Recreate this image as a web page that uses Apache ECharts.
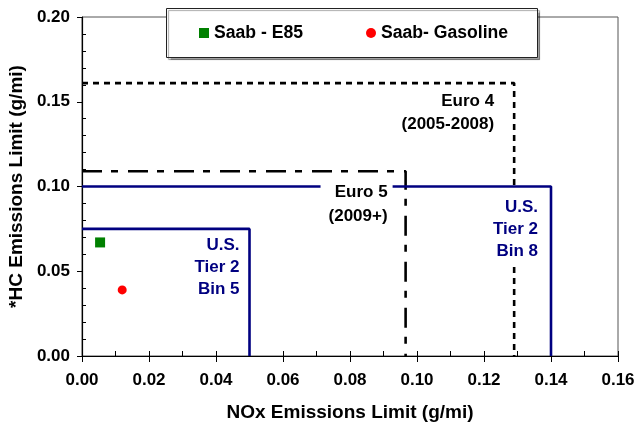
<!DOCTYPE html>
<html>
<head>
<meta charset="utf-8">
<script src="https://cdn.jsdelivr.net/npm/echarts@6/dist/echarts.min.js"></script>
<style>
  html, body { margin: 0; padding: 0; background: #fff; }
  #chart { width: 636px; height: 425px; }
</style>
</head>
<body>
<div id="chart"></div>
<script>
// Emission limit boxes: NOx limit (x) and HC limit (y), in g/mi
const limitNames = ['Euro 4', 'Euro 5', 'U.S. Tier 2 Bin 5', 'U.S. Tier 2 Bin 8'];
const limitNox = [0.129, 0.0966, 0.05, 0.14];
const limitHc = [0.161, 0.109, 0.075, 0.10];
const limitLabels = ['Euro 4\n(2005-2008)', 'Euro 5\n(2009+)', 'U.S.\nTier 2\nBin 5', 'U.S.\nTier 2\nBin 8'];

// Measured vehicle results
const vehicleNames = ['Saab - E85', 'Saab- Gasoline'];
const vehicleNox = [0.0054, 0.012];
const vehicleHc = [0.067, 0.039];

// Axis scales
const xAxisRange = { min: 0, max: 0.16, interval: 0.02 };
const yAxisRange = { min: 0, max: 0.20, interval: 0.05 };

const FONT = "'Liberation Sans', Arial, sans-serif";
const NAVY = '#000080';

// Per-box line and label styling
const boxStyles = [
  { line: { color: '#000', width: 2.6, type: [6, 5] },
    label: { color: '#000', align: 'right', lineHeight: 23, position: [-20, 7], padding: 0, bg: null } },
  { line: { color: '#000', width: 2.6, type: [20, 9, 7, 10] },
    label: { color: '#000', align: 'right', lineHeight: 24, position: [-13, 6], padding: [3, 5, 3, 8], bg: '#fff' } },
  { line: { color: NAVY, width: 2.6, type: 'solid' },
    label: { color: NAVY, align: 'right', lineHeight: 22, position: [-10, 5], padding: 0, bg: null } },
  { line: { color: NAVY, width: 2.6, type: 'solid' },
    label: { color: NAVY, align: 'right', lineHeight: 22, position: [-7, 1.5], padding: [8, 6, 4, 8], bg: '#fff' } }
];

const boxSeries = limitNames.map((name, i) => {
  const s = boxStyles[i];
  return {
    name: name,
    type: 'line',
    showSymbol: false,
    silent: true,
    z: i >= 2 ? 3 : 2,
    lineStyle: { color: s.line.color, width: s.line.width, type: s.line.type, cap: 'butt' },
    data: [[0, limitHc[i]], [limitNox[i], limitHc[i]], [limitNox[i], 0]],
    markPoint: {
      symbol: 'circle',
      symbolSize: 0,
      silent: true,
      z: 6,
      data: [{ coord: [limitNox[i], limitHc[i]] }],
      label: {
        show: true,
        formatter: limitLabels[i],
        position: s.label.position,
        align: s.label.align,
        verticalAlign: 'top',
        color: s.label.color,
        fontFamily: FONT,
        fontWeight: 'bold',
        fontSize: 17,
        lineHeight: s.label.lineHeight,
        padding: s.label.padding,
        backgroundColor: s.label.bg || 'transparent'
      }
    }
  };
});

const vehicleSymbols = ['rect', 'circle'];
const vehicleColors = ['#008000', '#ff0000'];
const vehicleSizes = [10, 9];
const vehicleSeries = vehicleNames.map((name, i) => ({
  name: name,
  type: 'scatter',
  z: 8,
  symbol: vehicleSymbols[i],
  symbolSize: vehicleSizes[i],
  itemStyle: { color: vehicleColors[i], opacity: 1 },
  data: [[vehicleNox[i], vehicleHc[i]]]
}));

const chart = echarts.init(document.getElementById('chart'), null, { renderer: 'canvas' });

const axisText = { fontFamily: FONT, fontWeight: 'bold', fontSize: 17, color: '#000' };
const titleText = { fontFamily: FONT, fontWeight: 'bold', fontSize: 19, color: '#000' };

chart.setOption({
  animation: false,
  backgroundColor: '#fff',
  textStyle: { fontFamily: FONT },
  grid: {
    left: 82, right: 18, top: 17, bottom: 69,
    outerBoundsMode: 'none',
    containLabel: false,
    show: true, borderColor: '#555', borderWidth: 1, backgroundColor: 'transparent'
  },
  graphic: [{
    type: 'rect',
    z: 20,
    shape: { x: 166.5, y: 8.5, width: 371, height: 49 },
    style: {
      fill: '#fff', stroke: '#222', lineWidth: 1,
      shadowColor: 'rgba(0,0,0,0.35)', shadowOffsetX: 2, shadowOffsetY: 2, shadowBlur: 1
    }
  }],
  legend: {
    z: 21,
    left: 199,
    top: 24,
    itemWidth: 10,
    itemHeight: 10,
    itemGap: 63,
    padding: 0,
    data: vehicleNames,
    itemStyle: { opacity: 1 },
    textStyle: { fontFamily: FONT, fontWeight: 'bold', fontSize: 17.6, color: '#000', padding: [0, 0, 0, 0] }
  },
  xAxis: [{
    type: 'value',
    min: xAxisRange.min, max: xAxisRange.max, interval: xAxisRange.interval,
    name: 'NOx Emissions Limit (g/mi)',
    nameLocation: 'middle',
    nameGap: 47,
    nameTextStyle: titleText,
    splitLine: { show: false },
    axisLine: { show: true, onZero: false, lineStyle: { color: '#000', width: 1.2 } },
    axisTick: { show: true, inside: false, length: 6, lineStyle: { color: '#000', width: 1 } },
    minorTick: { show: true, splitNumber: 2, length: -5, lineStyle: { color: '#000', width: 1 } },
    axisLabel: Object.assign({ margin: 16, formatter: v => v.toFixed(2) }, axisText)
  }, {
    // inner half of the crossing major ticks
    type: 'value',
    position: 'bottom',
    min: xAxisRange.min, max: xAxisRange.max, interval: xAxisRange.interval,
    splitLine: { show: false },
    axisLine: { show: false, onZero: false },
    axisTick: { show: true, inside: true, length: 5, lineStyle: { color: '#000', width: 1 } },
    axisLabel: { show: false }
  }],
  yAxis: {
    type: 'value',
    min: yAxisRange.min, max: yAxisRange.max, interval: yAxisRange.interval,
    name: '*HC Emissions Limit (g/mi)',
    nameLocation: 'middle',
    nameGap: 55,
    nameTextStyle: titleText,
    splitLine: { show: false },
    axisLine: { show: true, onZero: false, lineStyle: { color: '#000', width: 1.2 } },
    axisTick: { show: true, inside: false, length: 5, lineStyle: { color: '#000', width: 1 } },
    minorTick: { show: true, splitNumber: 5, length: -4, lineStyle: { color: '#000', width: 1 } },
    axisLabel: Object.assign({ margin: 12, formatter: v => v.toFixed(2) }, axisText)
  },
  series: boxSeries.concat(vehicleSeries)
});
</script>
</body>
</html>
